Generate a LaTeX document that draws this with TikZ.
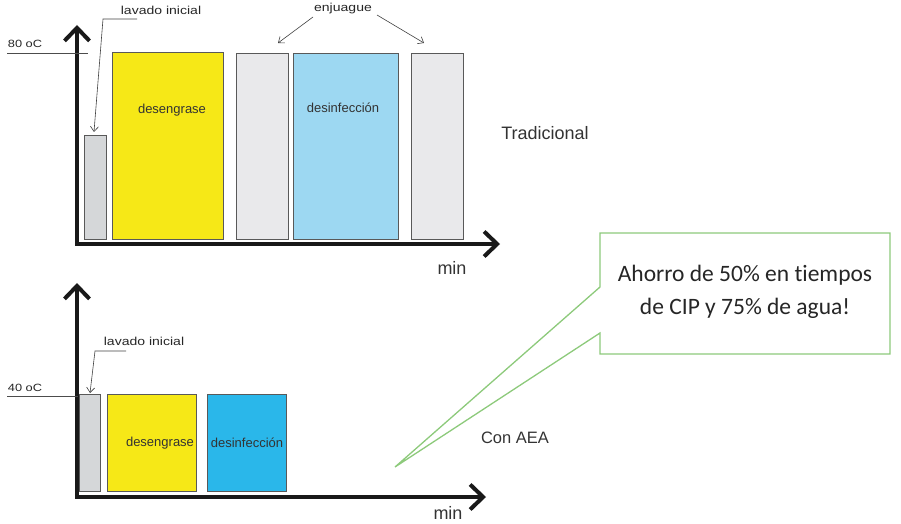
\documentclass[tikz,border=0pt]{standalone}
\usepackage{fontspec}
\setmainfont{Liberation Sans}
\newfontfamily\widefont[FakeStretch=1.22]{Liberation Sans}
\newfontfamily\calloutfont[Ligatures=NoCommon]{Carlito}
\usetikzlibrary{arrows.meta,calc,positioning}

\definecolor{lavgray}{HTML}{D5D7D9}
\definecolor{rinsegray}{HTML}{E9E9EB}
\definecolor{degyellow}{HTML}{F6E817}
\definecolor{disblue}{HTML}{9DD8F2}
\definecolor{disbluedark}{HTML}{2AB7EA}
\definecolor{callgreen}{HTML}{8DCA7B}

\tikzset{
  axis/.style={line width=4pt, black!90, line join=miter,
    {Straight Barb[length=13pt,width=25pt]}-{Straight Barb[length=13pt,width=25pt]}},
  bar/.style={draw=black!65, line width=1.1pt, inner sep=0pt, anchor=south west},
  barlabel/.style={font=\fontsize{13}{15}\selectfont, text=black!80},
  smalllabel/.style={font=\widefont\fontsize{11.5}{13}\selectfont, text=black!85},
  templabel/.style={font=\widefont\fontsize{10.5}{12}\selectfont, text=black!85},
  biglabel/.style={font=\fontsize{18}{20}\selectfont, text=black!80},
  leader/.style={black!75, line width=0.6pt, -{Straight Barb[length=5pt,width=8pt]}},
}

\begin{document}
\begin{tikzpicture}[x=1pt, y=1pt]
  \useasboundingbox (0,0) rectangle (901,523);

  % Top: traditional CIP
  \coordinate (orig1) at (77,279);
  \coordinate (ytip1) at (77,498);
  \coordinate (xtip1) at (500,279);

  \node[bar, fill=lavgray, minimum width=22, minimum height=104] (lav1) at (84,283) {};
  \node[bar, fill=degyellow, minimum width=111, minimum height=187] (deg1) at (112,283) {};
  \node[bar, fill=rinsegray, minimum width=52, minimum height=186] (enj1) at (236,283) {};
  \node[bar, fill=disblue, minimum width=105, minimum height=186] (dis1) at (293,283) {};
  \node[bar, fill=rinsegray, minimum width=52, minimum height=186] (enj2) at (411,283) {};

  \draw[axis] (ytip1) -- (orig1) -- (xtip1);

  % 80 oC mark
  \coordinate (t80a) at (7,470);
  \coordinate (t80b) at (88,470);
  \draw[black!70, line width=0.8pt] (t80a) -- (t80b);
  \node[templabel] (t80) at (25,479) {80 oC};

  \node[barlabel] (deg1lbl) at (172,413) {desengrase};
  \node[barlabel] (dis1lbl) at (343,415) {desinfección};

  % lavado inicial leader
  \node[smalllabel] (lav1lbl) at (161,513) {lavado inicial};
  \coordinate (lav1a) at (137,504);
  \coordinate (lav1b) at (103,504);
  \coordinate (lav1c) at (94,391);
  \draw[leader] (lav1a) -- (lav1b) -- (lav1c);

  % enjuague arrows
  \node[smalllabel] (enjlbl) at (343,514) {enjuague};
  \coordinate (enja) at (313,506);
  \coordinate (enjb) at (278,480);
  \coordinate (enjc) at (377,508);
  \coordinate (enjd) at (424,480);
  \draw[leader] (enja) -- (enjb);
  \draw[leader] (enjc) -- (enjd);

  \node[biglabel] (trad) at (545,390) {Tradicional};
  \node[biglabel] (min1) at (452,255) {min};

  % Bottom: with AEA
  \coordinate (orig2) at (77,26);
  \coordinate (ytip2) at (77,240);
  \coordinate (xtip2) at (486,26);

  \node[bar, fill=lavgray, minimum width=21, minimum height=97] (lav2) at (79,31) {};
  \node[bar, fill=degyellow, minimum width=89, minimum height=97] (deg2) at (107,31) {};
  \node[bar, fill=disbluedark, minimum width=79, minimum height=97] (dis2) at (207,31) {};

  \draw[axis] (ytip2) -- (orig2) -- (xtip2);

  % 40 oC mark
  \coordinate (t40a) at (7,127);
  \coordinate (t40b) at (78,127);
  \draw[black!70, line width=0.8pt] (t40a) -- (t40b);
  \node[templabel] (t40) at (25,135) {40 oC};

  \node[barlabel] (deg2lbl) at (160,80) {desengrase};
  \node[barlabel] (dis2lbl) at (247,80) {desinfección};

  \node[smalllabel] (lav2lbl) at (144,182) {lavado inicial};
  \coordinate (lav2a) at (126,172);
  \coordinate (lav2b) at (95,172);
  \coordinate (lav2c) at (90,130);
  \draw[leader] (lav2a) -- (lav2b) -- (lav2c);

  \node[font=\fontsize{16.5}{18}\selectfont, text=black!80] (aea) at (515,85) {Con AEA};
  \node[biglabel] (min2) at (448,10) {min};

  % callout
  \coordinate (cTL) at (600,290);
  \coordinate (cTR) at (890,290);
  \coordinate (cBR) at (890,169);
  \coordinate (cBL) at (600,169);
  \coordinate (cP1) at (600,190);
  \coordinate (cTip) at (395,56);
  \coordinate (cP2) at (600,236);
  \draw[callgreen, line width=1.3pt, fill=white]
    (cTL) -- (cTR) -- (cBR) -- (cBL) -- (cP1) -- (cTip) -- (cP2) -- cycle;
  \node[font=\calloutfont\fontsize{23.5}{33}\selectfont, text=black!85, align=center]
    (ahorro) at (745,231) {Ahorro de 50\% en tiempos\\de CIP y 75\% de agua!};
\end{tikzpicture}
\end{document}
